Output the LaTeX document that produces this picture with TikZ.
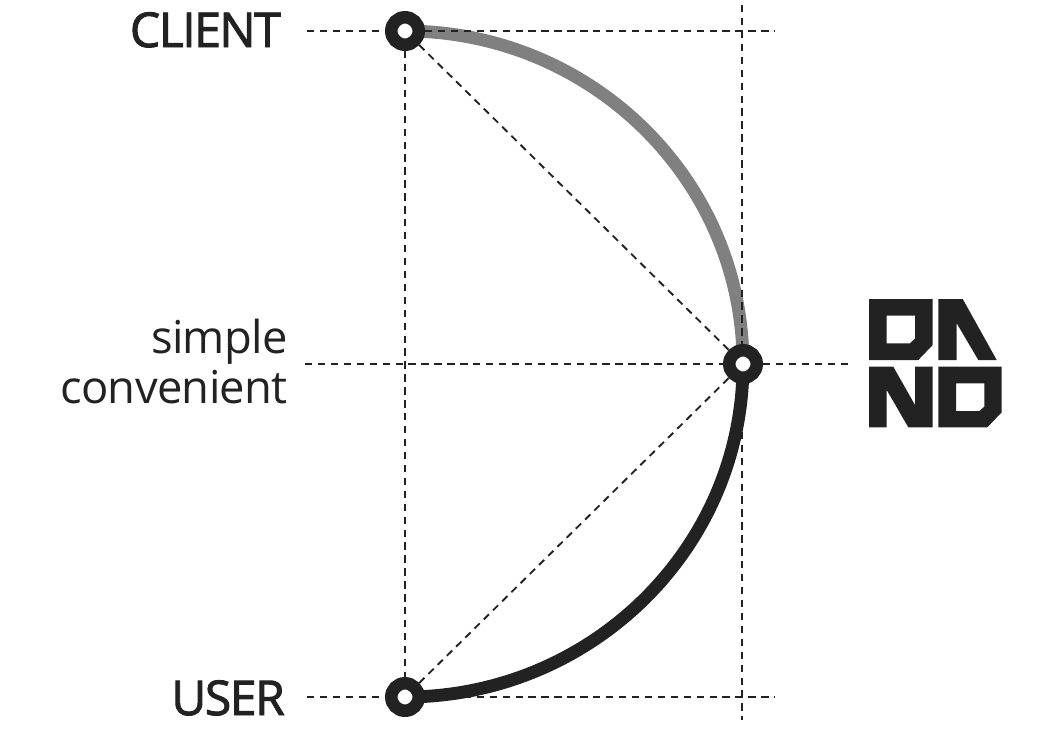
\documentclass[tikz,border=0pt]{standalone}
\usepackage{fontspec}
\setmainfont[LetterSpace=-1.5]{Open Sans}
\newfontfamily\semifont[FakeBold=2,LetterSpace=-3]{Open Sans}
\usetikzlibrary{backgrounds}
\definecolor{darkink}{HTML}{222222}
\definecolor{midgray}{HTML}{808080}
\tikzset{
    hub/.style={circle, draw=darkink, fill=white, line width=9.4pt, minimum size=20.6pt, inner sep=0pt},
    guide/.style={draw=darkink, line width=1.4pt, dash pattern=on 5.5pt off 4.2pt},
    curve/.style={line width=9.6pt},
    biglabel/.style={text=darkink, anchor=base east, font=\semifont\fontsize{36}{36}\selectfont},
    sidelabel/.style={text=darkink, anchor=east, align=right, inner sep=0pt, font=\fontsize{34}{37.5}\selectfont}
}
\begin{document}
\begin{tikzpicture}[x=0.75pt, y=-0.75pt]
    \useasboundingbox (0,0) rectangle (1062,729);

    % The three points on the curve
    \node[hub] (client) at (405,31) {};
    \node[hub] (server) at (743,364) {};
    \node[hub] (user) at (405,697) {};

    % Free ends of the guide lines
    \coordinate (clientleft) at (307,31);
    \coordinate (clientright) at (775,31);
    \coordinate (midleft) at (305,364);
    \coordinate (midright) at (849,364);
    \coordinate (userleft) at (307,697);
    \coordinate (userright) at (775,697);
    \coordinate (vtop) at (742,5);
    \coordinate (vbottom) at (742,720);

    \begin{scope}[on background layer]
        % Draw the two arcs
        \draw[curve, midgray] (client.center) to[out=0, in=90] (server.center);
        \draw[curve, darkink] (user.center) to[out=0, in=-90] (server.center);

        % Draw the dashed guides
        \draw[guide] (clientleft) -- (client);
        \draw[guide] (client) -- (clientright);
        \draw[guide] (midleft) -- (server);
        \draw[guide] (server) -- (midright);
        \draw[guide] (userleft) -- (user);
        \draw[guide] (user) -- (userright);
        \draw[guide] (client) -- (user);
        \draw[guide] (vtop) -- (vbottom);
        \draw[guide] (client) -- (server);
        \draw[guide] (user) -- (server);
    \end{scope}

    % Add the labels
    \node[biglabel, inner sep=0pt] (clientlabel) at (281,47) {CLIENT};
    \node[biglabel, inner sep=0pt] (userlabel) at (285,715) {USER};
    \node[sidelabel] (midlabel) at (288,361) {simple\\convenient};

    % Draw the logo
    \fill[darkink, even odd rule] (869,299) -- (932.7,299) -- (932.7,345) -- (918.3,360) -- (869,360) -- cycle
        (886.7,315.7) -- (915,315.7) -- (915,338.3) -- (910,343.3) -- (886.7,343.3) -- cycle;
    \fill[darkink] (938.3,299) -- (962.7,299) -- (996.7,360) -- (978.3,360) -- (956.7,323.3) -- (956.7,360) -- (938.3,360) -- cycle;
    \fill[darkink] (869,366.7) -- (893.3,366.7) -- (915,405) -- (915,366.7) -- (932.7,366.7) -- (932.7,427.3) -- (908.3,427.3) -- (886.7,390) -- (886.7,427.3) -- (869,427.3) -- cycle;
    \fill[darkink, even odd rule] (938.3,366.7) -- (1001.7,366.7) -- (1001.7,412.3) -- (987.3,427.3) -- (938.3,427.3) -- cycle
        (956,383.3) -- (984.3,383.3) -- (984.3,406.7) -- (979.3,411) -- (956,411) -- cycle;
\end{tikzpicture}
\end{document}
